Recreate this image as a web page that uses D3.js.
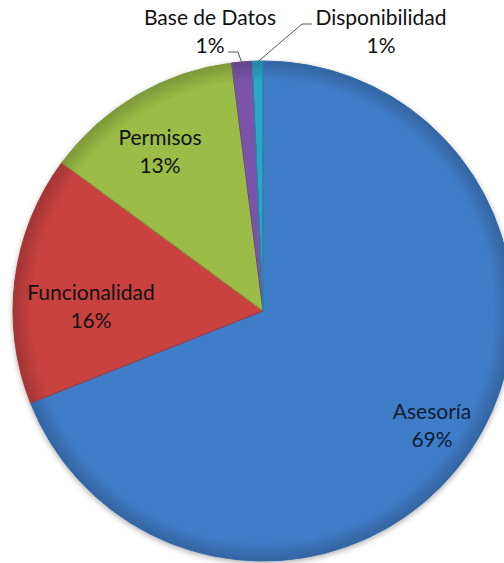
<!DOCTYPE html>
<html>
<head>
<meta charset="utf-8">
<script src="https://cdn.jsdelivr.net/npm/d3@7"></script>
<style>
  body { margin: 0; background: #fff; }
  svg { display: block; }
</style>
</head>
<body>
<svg id="chart"></svg>
<script>
// Data (percent shares)
const categories = ['Asesoría', 'Funcionalidad', 'Permisos', 'Base de Datos', 'Disponibilidad'];
const values = [69.0, 16.1, 12.9, 1.3, 0.7];
const colors = ['#3f7dc9', '#c9433f', '#9bbd46', '#7b52ab', '#2ba6c6'];

const width = 504;
const height = 563;
const cx = 263, cy = 311, radius = 250;

const svg = d3.select('#chart')
    .attr('width', width)
    .attr('height', height);

const defs = svg.append('defs');

// soft shadow
const shadow = defs.append('filter').attr('id', 'shadow')
    .attr('x', '-10%').attr('y', '-10%').attr('width', '120%').attr('height', '120%');
shadow.append('feGaussianBlur').attr('in', 'SourceAlpha').attr('stdDeviation', 3);
shadow.append('feOffset').attr('dx', 0).attr('dy', 2).attr('result', 'b');
shadow.append('feComponentTransfer').append('feFuncA').attr('type', 'linear').attr('slope', 0.35);
const merge = shadow.append('feMerge');
merge.append('feMergeNode');
merge.append('feMergeNode').attr('in', 'SourceGraphic');

// rim darkening
const rim = defs.append('radialGradient').attr('id', 'rim')
    .attr('gradientUnits', 'userSpaceOnUse')
    .attr('cx', 0).attr('cy', 0).attr('r', radius);
rim.append('stop').attr('offset', '0.92').attr('stop-color', '#000').attr('stop-opacity', 0);
rim.append('stop').attr('offset', '1').attr('stop-color', '#000').attr('stop-opacity', 0.2);

const pie = d3.pie().sort(null).value(d => d);
const arcs = pie(values);

const arc = d3.arc().innerRadius(0).outerRadius(radius);

const g = svg.append('g').attr('transform', `translate(${cx},${cy})`);

const slices = g.append('g').attr('filter', 'url(#shadow)');

slices.selectAll('path.slice')
  .data(arcs)
  .enter()
  .append('path')
  .attr('class', 'slice')
  .attr('d', arc)
  .attr('fill', (d, i) => colors[i]);

// bevel-ish overlay
g.selectAll('path.rim')
  .data(arcs)
  .enter()
  .append('path')
  .attr('class', 'rim')
  .attr('d', arc)
  .attr('fill', 'url(#rim)');

g.selectAll('path.edge')
  .data(arcs)
  .enter()
  .append('path')
  .attr('class', 'edge')
  .attr('d', arc)
  .attr('fill', 'none')
  .attr('stroke', (d, i) => d3.color(colors[i]).darker(0.5))
  .attr('stroke-width', 1)
  .attr('stroke-linejoin', 'round');

// labels (x centre, first baseline)
const fmt = v => Math.round(v) + '%';
const labelPos = [
  [432, 419],   // Asesoría
  [91, 300],    // Funcionalidad
  [160, 145],   // Permisos
  [210, 25],    // Base de Datos
  [381, 25]     // Disponibilidad
];

const labels = svg.append('g')
  .attr('font-family', 'Lato, "Open Sans", sans-serif')
  .attr('font-size', 21)
  .attr('fill', '#111')
  .attr('text-anchor', 'middle');

categories.forEach((c, i) => {
  const t = labels.append('text')
    .attr('x', labelPos[i][0])
    .attr('y', labelPos[i][1])
    .attr('fill', i === 0 ? '#0f1c33' : '#111');
  t.append('tspan').attr('x', labelPos[i][0]).text(c);
  t.append('tspan').attr('x', labelPos[i][0]).attr('dy', 28).text(fmt(values[i]));
});

// leader lines for the thin slices
const edgePoint = d => {
  const a = (d.startAngle + d.endAngle) / 2;
  return [cx + Math.sin(a) * radius, cy - Math.cos(a) * radius];
};
const bd = edgePoint(arcs[3]);
const dp = edgePoint(arcs[4]);
const leaders = [
  [[228, 52], [238, 52], [bd[0], bd[1] + 1]],
  [[312, 24], [302, 24], [dp[0], dp[1] + 1]]
];
svg.append('g').selectAll('path')
  .data(leaders)
  .enter()
  .append('path')
  .attr('d', d3.line())
  .attr('fill', 'none')
  .attr('stroke', '#555')
  .attr('stroke-width', 1);
</script>
</body>
</html>
